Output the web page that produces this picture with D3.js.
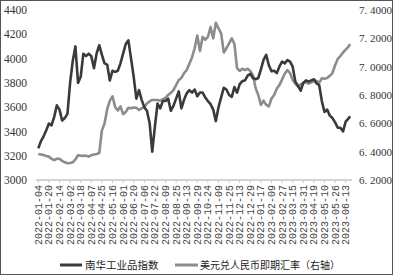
<!DOCTYPE html>
<html><head><meta charset="utf-8">
<script src="https://cdn.jsdelivr.net/npm/d3@7"></script>
<style>body{margin:0;background:#fff}svg{display:block}</style>
</head><body>
<svg id="c" width="394" height="276"></svg>
<script>
const tickLabels = ["2022-01-04","2022-01-20","2022-02-14","2022-03-02","2022-03-18","2022-04-07","2022-04-25","2022-05-16","2022-06-01","2022-06-20","2022-07-06","2022-07-22","2022-08-09","2022-08-25","2022-09-13","2022-09-29","2022-10-24","2022-11-09","2022-11-25","2022-12-13","2022-12-29","2023-01-17","2023-02-09","2023-02-27","2023-03-15","2023-03-31","2023-04-19","2023-05-10","2023-05-26","2023-06-13"];
const tickStep = 12; // trading days between labels
const dayIdx = [0,3,6,9,12,15,18,21,24,27,30,33,36,39,42,45,48,51,54,57,60,63,66,69,72,75,78,81,84,87,90,93,96,99,102,105,108,111,114,117,120,123,126,129,132,135,138,141,144,147,150,153,156,159,162,165,168,171,174,177,180,183,186,189,192,195,198,201,204,207,210,213,216,219,222,225,228,231,234,237,240,243,246,249,252,255,258,261,264,267,270,273,276,279,282,285,288,291,294,297,300,303,306,309,312,315,318,321,324,327,330,333,336,339,342,345,348,351,353];
const nanhua = [3260,3320,3360,3410,3465,3450,3520,3615,3580,3490,3510,3545,3800,3980,4100,3800,3850,4040,4020,4040,
4020,3920,4040,4110,4030,3960,3950,3820,3900,3890,3900,3960,4040,4120,4150,4000,3850,3670,3740,3660,
3600,3570,3470,3233,3440,3630,3590,3650,3650,3670,3570,3610,3670,3730,3590,3660,3714,3740,3720,3745,
3690,3720,3720,3680,3650,3625,3580,3485,3600,3680,3760,3745,3700,3685,3765,3720,3790,3815,3820,3860,
3875,3840,3830,3840,3910,3990,4030,3945,3895,3900,3880,3935,3975,3960,3988,3975,3933,3810,3775,3735,
3800,3820,3810,3820,3830,3796,3780,3650,3560,3580,3530,3510,3475,3430,3430,3400,3480,3505,3525];
const usdcny = [6.384,6.38,6.376,6.37,6.365,6.35,6.34,6.35,6.35,6.335,6.325,6.318,6.32,6.325,6.345,6.375,6.372,6.37,6.372,6.365,
6.375,6.38,6.384,6.39,6.55,6.60,6.70,6.76,6.79,6.715,6.69,6.72,6.665,6.68,6.71,6.706,6.712,6.71,6.695,6.706,
6.715,6.74,6.755,6.765,6.765,6.765,6.76,6.77,6.78,6.80,6.815,6.835,6.87,6.906,6.92,6.955,6.976,7.02,7.065,7.13,
7.22,7.11,7.21,7.19,7.21,7.28,7.20,7.31,7.27,7.235,7.10,7.13,7.165,7.20,7.16,6.99,6.97,6.985,6.976,6.985,
6.97,6.94,6.85,6.80,6.73,6.76,6.73,6.72,6.775,6.80,6.845,6.87,6.91,6.95,6.976,6.955,6.906,6.88,6.86,6.875,
6.885,6.89,6.88,6.89,6.895,6.90,6.885,6.918,6.915,6.92,6.935,6.955,7.01,7.055,7.075,7.10,7.12,7.14,7.16];
const leftTicks = [3000,3200,3400,3600,3800,4000,4200,4400];
const rightTicks = [6.2,6.4,6.6,6.8,7.0,7.2,7.4];
const seriesNames = ["南华工业品指数","美元兑人民币即期汇率（右轴）"];

const svg = d3.select("#c");
const x = d3.scaleLinear().domain([0, (tickLabels.length-1)*tickStep]).range([38.3, 345.7]);
const yL = d3.scaleLinear().domain([3000,4400]).range([180,10]);
const yR = d3.scaleLinear().domain([6.2,7.4]).range([180,10]);

// border
svg.append("rect").attr("x",0.5).attr("y",0.5).attr("width",392).attr("height",274)
  .attr("fill","none").attr("stroke","#555").attr("stroke-width",1);

// x axis baseline
svg.append("line").attr("x1",36).attr("x2",352).attr("y1",180).attr("y2",180)
  .attr("stroke","#d4d4d4").attr("stroke-width",2);
tickLabels.forEach((t,i)=>{
  svg.append("line").attr("x1",x(i*tickStep)).attr("x2",x(i*tickStep)).attr("y1",179).attr("y2",183)
    .attr("stroke","#ccc").attr("stroke-width",1);
});

// left axis labels
const lg = svg.append("g").attr("transform","translate(27,0)")
  .call(d3.axisLeft(yL).tickValues(leftTicks).tickSize(0).tickPadding(0).tickFormat(d3.format("d")));
lg.select(".domain").remove();
lg.selectAll("text").attr("font-family","'Liberation Serif', serif").attr("font-size",11.5).attr("fill","#333");

// right axis labels
const rg = svg.append("g").attr("transform","translate(359,0)")
  .call(d3.axisRight(yR).tickValues(rightTicks).tickSize(0).tickPadding(0).tickFormat(d=>d.toFixed(4).replace(".",". ")));
rg.select(".domain").remove();
rg.selectAll("text").attr("font-family","'Liberation Serif', serif").attr("font-size",11).attr("fill","#333");

// x tick labels rotated
svg.append("g").selectAll("text").data(tickLabels).join("text")
  .attr("transform",(d,i)=>`translate(${x(i*tickStep)+3.5},185) rotate(-90)`)
  .attr("text-anchor","end")
  .attr("font-family","'Liberation Mono', monospace").attr("font-size",10).attr("fill","#444")
  .text(d=>d);

// lines
const lineL = d3.line().x((d,i)=>x(dayIdx[i])).y(d=>yL(d));
const lineR = d3.line().x((d,i)=>x(dayIdx[i])).y(d=>yR(d));
svg.append("path").attr("d",lineR(usdcny)).attr("fill","none").attr("stroke","#8c8c8c").attr("stroke-width",2.6).attr("stroke-linejoin","round");
svg.append("path").attr("d",lineL(nanhua)).attr("fill","none").attr("stroke","#3a3a3a").attr("stroke-width",2.6).attr("stroke-linejoin","round");

// legend
const leg = svg.append("g");
leg.append("line").attr("x1",60).attr("x2",82).attr("y1",265).attr("y2",265).attr("stroke","#3a3a3a").attr("stroke-width",3);
leg.append("text").attr("x",85).attr("y",269).attr("font-family","'Noto Sans CJK SC'").attr("font-size",10.5).attr("fill","#222").text(seriesNames[0]);
leg.append("line").attr("x1",175).attr("x2",198).attr("y1",265).attr("y2",265).attr("stroke","#8c8c8c").attr("stroke-width",3);
leg.append("text").attr("x",200).attr("y",269).attr("font-family","'Noto Sans CJK SC'").attr("font-size",10).attr("fill","#222").text(seriesNames[1]);
</script>
</body></html>
